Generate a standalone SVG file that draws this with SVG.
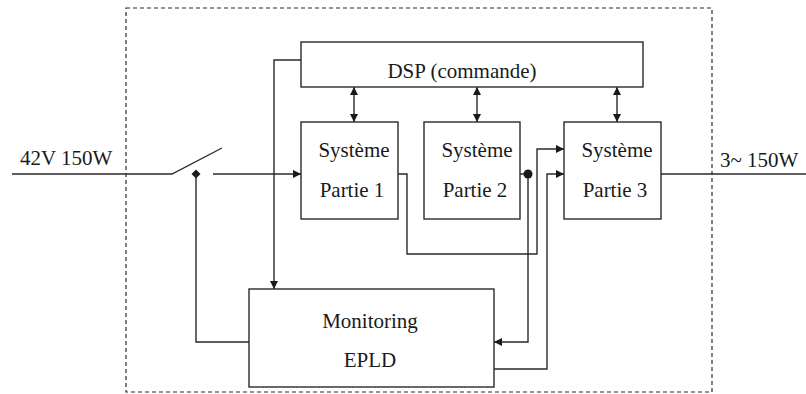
<svg xmlns="http://www.w3.org/2000/svg" width="806" height="394" viewBox="0 0 806 394">
  <style>
    .box { fill: #ffffff; stroke: #2a2a2a; stroke-width: 1.4; }
    .wire { fill: none; stroke: #2a2a2a; stroke-width: 1.4; }
    .frame { fill: none; stroke: #2a2a2a; stroke-width: 1.2; stroke-dasharray: 4 3; }
    text { font-family: 'Liberation Serif', 'DejaVu Serif', serif; font-size: 21px; fill: #1a1a1a; }
    .mid { text-anchor: middle; }
  </style>
  <defs>
    <marker id="arr" viewBox="0 0 10 10" refX="10" refY="5" markerWidth="9" markerHeight="8" markerUnits="userSpaceOnUse" orient="auto-start-reverse">
      <path d="M0,0 L10,5 L0,10 Z" fill="#1a1a1a"/>
    </marker>
  </defs>
  <rect width="806" height="394" fill="#ffffff"/>

  <!-- enclosure -->
  <rect class="frame" x="126" y="8" width="586" height="384"/>

  <!-- external labels -->
  <text x="20" y="165" font-family="Liberation Serif, serif">42V 150W</text>
  <text x="720" y="167" font-family="Liberation Serif, serif">3~ 150W</text>

  <g id="connectors">
    <!-- input line and switch -->
    <path class="wire" d="M12,174 H172 L222,148"/>
    <path d="M196,169.5 L200.5,174 L196,178.5 L191.5,174 Z" fill="#1a1a1a"/>
    <path class="wire" d="M213,174 H301" marker-end="url(#arr)"/>
    <!-- switch control from monitoring -->
    <path class="wire" d="M249,342 H196 V174"/>
    <!-- DSP to monitoring -->
    <path class="wire" d="M301,60 H274 V289" marker-end="url(#arr)"/>
    <!-- DSP <-> parts -->
    <path class="wire" d="M354,87 V122" marker-start="url(#arr)" marker-end="url(#arr)"/>
    <path class="wire" d="M477,87 V122" marker-start="url(#arr)" marker-end="url(#arr)"/>
    <path class="wire" d="M617,87 V122" marker-start="url(#arr)" marker-end="url(#arr)"/>
    <!-- part 1 to part 3 -->
    <path class="wire" d="M398,174 H407 V254 H537 V149 H564" marker-end="url(#arr)"/>
    <!-- part 2 to monitoring -->
    <path class="wire" d="M520,174 H528 V342 H494" marker-end="url(#arr)"/>
    <circle cx="528" cy="174" r="4.5" fill="#1a1a1a"/>
    <!-- monitoring to part 3 -->
    <path class="wire" d="M494,369 H547 V174 H564" marker-end="url(#arr)"/>
    <!-- output -->
    <path class="wire" d="M661,174 H806"/>
  </g>

  <g id="dsp" font-family="Liberation Serif, serif">
    <rect class="box" x="301" y="42" width="342" height="45"/>
    <text class="mid" x="462" y="78">DSP (commande)</text>
  </g>

  <g id="partie1" font-family="Liberation Serif, serif">
    <rect class="box" x="301" y="122" width="97" height="97"/>
    <text class="mid" x="354" y="157">Système</text>
    <text class="mid" x="352" y="197">Partie 1</text>
  </g>

  <g id="partie2" font-family="Liberation Serif, serif">
    <rect class="box" x="424" y="122" width="96" height="97"/>
    <text class="mid" x="477" y="157">Système</text>
    <text class="mid" x="475" y="197">Partie 2</text>
  </g>

  <g id="partie3" font-family="Liberation Serif, serif">
    <rect class="box" x="564" y="122" width="97" height="97"/>
    <text class="mid" x="617" y="157">Système</text>
    <text class="mid" x="615" y="197">Partie 3</text>
  </g>

  <g id="monitoring" font-family="Liberation Serif, serif">
    <rect class="box" x="249" y="289" width="245" height="98"/>
    <text class="mid" x="370" y="328">Monitoring</text>
    <text class="mid" x="370" y="367">EPLD</text>
  </g>
</svg>
